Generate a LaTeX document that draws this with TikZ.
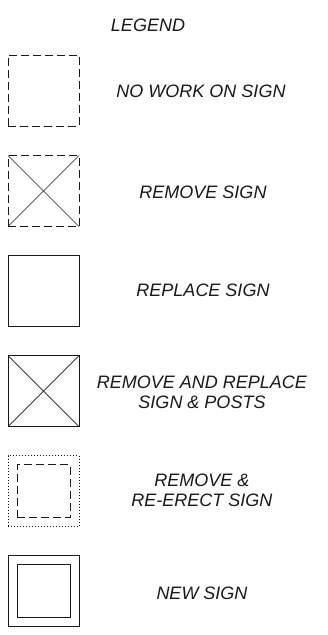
\documentclass[tikz,border=0pt]{standalone}
\usepackage{fontspec}
\setmainfont{Liberation Sans}
\usepackage{tikz}
\usetikzlibrary{positioning}
\tikzset{
  sgn/.style={draw=black!90,line width=0.8pt,minimum size=71pt,inner sep=0pt,
    outer sep=0pt},
  sgninner/.style={draw=black!90,line width=0.8pt,minimum size=53pt,inner sep=0pt},
  dsh/.style={dash pattern=on 8pt off 4pt},
  dtt/.style={dash pattern=on 0.8pt off 2.2pt},
  xline/.style={draw=black!90,line width=0.7pt},
  lbl/.style={font=\fontsize{18}{19.5}\selectfont\itshape,align=center,
    inner sep=0pt,text=black!90},
}

\begin{document}
\begin{tikzpicture}[x=1pt,y=-1pt]
  \useasboundingbox (0,0) rectangle (328,635);
  \node[lbl] (title) at (148,25) {LEGEND};

  \node[sgn,dsh] (nowork) at (43.5,90.5) {};
  \node[lbl] (nowork-t) at (201,91) {NO WORK ON SIGN};

  \node[sgn,dsh] (rem) at (43.5,191) {};
  \draw[xline] (rem.north west)--(rem.south east);
  \draw[xline] (rem.south west)--(rem.north east);
  \node[lbl] (rem-t) at (203,192) {REMOVE SIGN};

  \node[sgn] (repl) at (43.5,290.5) {};
  \node[lbl] (repl-t) at (203,290) {REPLACE SIGN};

  \node[sgn] (remrepl) at (43.5,391) {};
  \draw[xline] (remrepl.north west)--(remrepl.south east);
  \draw[xline] (remrepl.south west)--(remrepl.north east);
  \node[lbl] (remrepl-t) at (202,392.5) {REMOVE AND REPLACE\\SIGN \& POSTS};

  \node[sgn,dtt] (reerect) at (43.5,491) {};
  \node[sgninner,dsh] (reerect-in) at (reerect) {};
  \node[lbl] (reerect-t) at (202,490.5) {REMOVE \&\\RE-ERECT SIGN};

  \node[sgn] (new) at (43.5,591) {};
  \node[sgninner] (new-in) at (new) {};
  \node[lbl] (new-t) at (202,593) {NEW SIGN};
\end{tikzpicture}
\end{document}
